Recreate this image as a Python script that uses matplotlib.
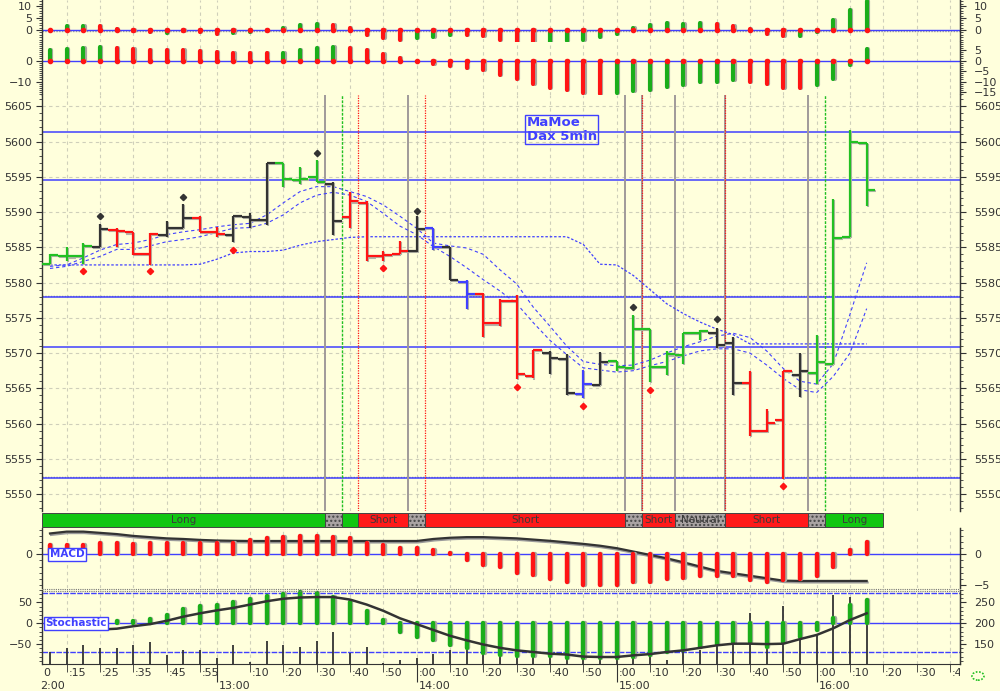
import matplotlib
matplotlib.use("Agg")
import matplotlib.pyplot as plt
from matplotlib.patches import Rectangle, Circle
from matplotlib.ticker import MultipleLocator
from matplotlib.transforms import blended_transform_factory, Bbox, TransformedBbox

BG = "#FFFFDC"
GREEN = "#22C022"
HIST_GREEN = "#1AAE1A"
RED = "#FF1414"
BLACK = "#333333"
BLUE = "#4040FF"
GRAY = "#A09A9A"
GRID = "#CFCFBA"
COLORS = {"g": GREEN, "r": RED, "k": BLACK, "b": BLUE}
HIST_COLORS = {"g": HIST_GREEN, "r": RED}

W, H = 1000, 691
X_LIM = (7.6, 283.0)

# 5-minute bars, minutes after 12:00 (12:10 .. 16:15)
bar_minutes = list(range(10, 256, 5))

price_open = [5582.7, 5583.8, 5583.8, 5585.1, 5587.5, 5587.1, 5584.0, 5586.7, 5587.8, 5589.2,
              5587.2, 5586.7, 5589.3, 5588.9, 5596.9, 5594.5, 5595.0, 5594.0, 5589.3, 5591.3,
              5583.8, 5584.0, 5584.5, 5587.8, 5585.1, 5580.1, 5578.4, 5574.2, 5577.4, 5566.7,
              5570.0, 5569.1, 5564.2, 5565.5, 5568.9, 5567.9, 5573.4, 5568.0, 5569.7, 5572.9,
              5572.9, 5571.4, 5565.7, 5559.0, 5560.5, 5566.9, 5567.2, 5568.5, 5586.4, 5599.8]
price_high = [5584.0, 5585.1, 5585.6, 5588.3, 5587.7, 5587.2, 5587.0, 5588.7, 5591.1, 5589.4,
              5587.9, 5589.5, 5589.8, 5596.9, 5596.9, 5596.4, 5597.4, 5594.2, 5592.9, 5591.5,
              5584.5, 5585.9, 5589.4, 5587.8, 5585.1, 5580.4, 5578.5, 5577.6, 5578.3, 5570.5,
              5570.3, 5569.9, 5567.6, 5570.1, 5568.9, 5575.4, 5573.4, 5570.3, 5572.9, 5573.3,
              5573.6, 5572.3, 5567.5, 5562.0, 5567.5, 5570.0, 5572.6, 5591.8, 5601.7, 5599.8]
price_low = [5582.6, 5583.0, 5582.6, 5585.0, 5585.0, 5583.9, 5582.5, 5586.5, 5587.7, 5587.1,
             5586.5, 5585.8, 5587.7, 5588.1, 5593.6, 5594.0, 5594.2, 5586.8, 5587.7, 5583.1,
             5583.1, 5584.0, 5584.4, 5584.6, 5580.4, 5576.3, 5572.3, 5573.8, 5566.3, 5566.4,
             5567.1, 5564.1, 5563.6, 5565.5, 5567.4, 5567.8, 5565.9, 5566.9, 5568.4, 5571.8,
             5570.7, 5564.1, 5558.2, 5558.8, 5552.1, 5563.8, 5565.6, 5568.5, 5586.4, 5590.9]
price_close = [5583.9, 5583.7, 5585.2, 5587.6, 5587.3, 5584.0, 5586.9, 5587.7, 5589.1, 5587.2,
               5586.9, 5589.4, 5588.9, 5596.9, 5594.7, 5594.7, 5594.2, 5588.8, 5591.5, 5583.7,
               5583.9, 5584.5, 5587.6, 5585.1, 5580.4, 5578.4, 5574.2, 5577.4, 5567.1, 5570.5,
               5569.3, 5564.3, 5565.6, 5568.8, 5568.0, 5573.4, 5568.0, 5569.8, 5572.8, 5573.1,
               5571.2, 5565.8, 5559.0, 5560.1, 5567.4, 5567.5, 5568.8, 5586.3, 5600.0, 5593.1]
price_color = list("gggkrrrkkrrkkkgggkrrrrkbkbrrrrkkbkggggggkkrrrkgggg")

band_upper = [5582.3, 5582.5, 5583.5, 5584.6, 5585.4, 5585.6, 5586.1, 5586.8, 5587.2, 5587.5,
              5587.9, 5588.2, 5588.4, 5589.6, 5591.3, 5592.9, 5593.6, 5593.6, 5592.9, 5592.2,
              5591.0, 5589.4, 5587.7, 5585.6, 5585.2, 5584.9, 5584.0, 5581.8, 5579.8, 5576.5,
              5573.8, 5571.0, 5568.8, 5568.4, 5568.2, 5568.3, 5569.0, 5570.0, 5570.9, 5571.6,
              5572.4, 5572.8, 5572.2, 5570.3, 5567.8, 5566.0, 5565.6, 5568.5, 5575.5, 5582.8]
band_lower = [5582.0, 5582.3, 5583.0, 5583.7, 5584.7, 5584.7, 5585.2, 5585.8, 5586.1, 5586.5,
              5587.1, 5587.7, 5587.8, 5588.4, 5589.6, 5591.3, 5592.4, 5592.8, 5592.4, 5591.5,
              5589.8, 5588.0, 5586.8, 5585.1, 5583.7, 5582.1, 5580.4, 5578.8, 5577.0, 5574.3,
              5571.8, 5569.8, 5567.9, 5567.6, 5567.3, 5567.5, 5568.2, 5568.8, 5569.6, 5570.3,
              5570.6, 5570.6, 5570.0, 5568.3, 5566.4, 5564.8, 5564.4, 5566.7, 5570.0, 5576.3]
slow_line = [5582.5, 5582.5, 5582.5, 5582.5, 5582.5, 5582.5, 5582.5, 5582.5, 5582.5, 5582.6,
             5583.3, 5584.2, 5584.4, 5584.4, 5584.6, 5585.3, 5585.8, 5586.1, 5586.4, 5586.5,
             5586.5, 5586.5, 5586.5, 5586.5, 5586.5, 5586.5, 5586.5, 5586.5, 5586.5, 5586.5,
             5586.5, 5586.5, 5585.4, 5582.6, 5582.5, 5581.0, 5579.0, 5577.0, 5575.6, 5574.4,
             5573.4, 5572.6, 5571.3, 5571.3, 5571.3, 5571.3, 5571.3, 5571.3, 5571.3, 5571.3]

fractal_low_min = [20, 40, 65, 110, 150, 170, 190, 230]
fractal_low_val = [5581.6, 5581.6, 5584.6, 5582.0, 5565.2, 5562.5, 5564.8, 5551.2]
fractal_high_min = [25, 50, 90, 120, 185, 210]
fractal_high_val = [5589.5, 5592.1, 5598.4, 5590.2, 5576.5, 5574.8]

level_lines = [5601.3, 5594.6, 5577.9, 5570.8, 5552.3]

signal_gray = [92.5, 117.5, 182.5, 187.5, 197.5, 212.5, 237.5]
signal_red = [102.5, 122.5, 187.5, 212.5]
signal_green = [97.5, 242.5]

status_start = [7.6, 92.5, 97.5, 102.5, 117.5, 122.5, 182.5, 187.5, 197.5, 212.5, 237.5, 242.5]
status_end = [92.5, 97.5, 102.5, 117.5, 122.5, 182.5, 187.5, 197.5, 212.5, 237.5, 242.5, 260.0]
status_kind = ["g", "n", "g", "r", "n", "r", "n", "r", "n", "r", "n", "g"]
status_text = ["Long", "", "", "Short", "", "Short", "", "Short", "Neutral", "Short", "", "Long"]

top_values = [0.0, 1.5, 1.5, 1.5, 0.3, -0.4, -1.0, -1.2, -0.4, -1.0,
              -1.5, -1.2, -1.0, -0.6, 1.0, 2.0, 2.5, 2.0, 1.0, -2.0,
              -3.5, -4.0, -3.5, -2.8, -2.0, -2.0, -2.5, -4.0, -5.0, -5.5,
              -5.5, -4.5, -4.0, -3.0, -1.5, 1.0, 2.0, 3.0, 2.5, 3.0,
              2.5, 1.8, 0.3, -1.5, -2.5, -2.5, -1.0, 4.0, 8.5, 12.0]
top_color = list("rggrrrrgrrrggrgggrrrrrgggrrrrrggggggggggrrrrrggggg")

mid_values = [5.2, 5.4, 6.0, 6.5, 6.0, 5.7, 5.2, 5.2, 5.2, 4.4,
              4.1, 3.8, 3.7, 3.7, 3.8, 5.2, 6.0, 6.5, 6.0, 4.9,
              3.3, 1.0, 0.0, -1.7, -2.5, -3.5, -4.6, -6.8, -8.9, -11.3,
              -12.9, -14.1, -15.4, -16.0, -15.4, -14.4, -13.8, -12.5, -11.7, -10.2,
              -10.2, -9.4, -10.2, -11.4, -12.9, -13.3, -11.7, -9.0, -2.2, 5.7]
mid_color = list("ggggrrrrrrrrrrggggrrrrrrrrrrrrrrrrggggggggrrrrgggg")

macd_hist = [1.5, 1.5, 1.5, 1.8, 1.8, 1.6, 1.8, 1.8, 1.9, 1.9,
             1.9, 1.9, 2.3, 2.6, 2.8, 3.0, 3.0, 2.8, 2.6, 1.9,
             1.5, 1.1, 1.0, 0.7, 0.2, -0.9, -1.7, -2.0, -3.1, -3.4,
             -4.0, -4.6, -5.0, -5.0, -5.0, -4.6, -4.5, -4.0, -3.9, -3.6,
             -3.6, -3.5, -4.2, -4.5, -4.2, -4.0, -3.5, -2.0, 0.7, 2.0]
macd_line = [3.4, 3.7, 3.7, 3.5, 3.3, 3.0, 2.8, 2.6, 2.5, 2.35,
             2.25, 2.2, 2.17, 2.17, 2.17, 2.17, 2.17, 2.17, 2.17, 2.17,
             2.17, 2.17, 2.17, 2.5, 2.7, 2.8, 2.8, 2.7, 2.6, 2.4,
             2.2, 1.95, 1.7, 1.4, 1.0, 0.45, -0.1, -0.65, -1.3, -2.0,
             -2.7, -3.1, -3.5, -3.9, -4.3, -4.35, -4.35, -4.35, -4.35, -4.35]

stoch_hist = [0, 0, 2, 3, 5, 5, 10, 20, 34, 42,
              44, 50, 58, 66, 70, 74, 72, 62, 52, 30,
              8, -20, -32, -40, -52, -60, -72, -76, -78, -78,
              -79, -83, -83, -83, -83, -81, -77, -69, -65, -57,
              -49, -45, -45, -57, -45, -33, -16, 12, 43, 57]
stoch_line = [-15, -15, -15, -15, -13, -7, -2, 6, 16, 24,
              31, 37, 45, 53, 59, 62, 63, 63, 57, 45,
              30, 12, -2, -16, -30, -41, -51, -59, -65, -69,
              -73, -75, -80, -81, -81, -77, -74, -69, -65, -59,
              -53, -49, -49, -50, -49, -38, -28, -12, 8, 24]
stoch_spike = [-70, -60, -52, -60, -60, -52, -44, -76, -64, -64,
               -84, -52, -92, -42, -52, -58, -42, -20, -72, -58,
               -96, -88, -84, -74, -64, -64, -64, -12, -4, -8,
               -12, -12, -16, -12, -12, -12, -12, -88, -20, -64,
               -48, -12, 24, -28, 42, -36, -28, 68, 62, 56]

grid_minutes = [15, 25, 35, 45, 55, 60] + list(range(70, 281, 10))
row1_minutes = [15, 25, 35, 45, 55] + list(range(70, 281, 10))
hour_minutes = [60, 120, 180, 240]
hour_labels = ["13:00", "14:00", "15:00", "16:00"]


def add_panel(fig, top, bottom, ylim):
    ax = fig.add_axes([42 / W, 1 - bottom / H, 918 / W, (bottom - top) / H])
    ax.set_facecolor(BG)
    ax.set_xlim(X_LIM)
    ax.set_ylim(ylim)
    ax.spines["top"].set_visible(False)
    ax.spines["bottom"].set_visible(False)
    for side in ("left", "right"):
        ax.spines[side].set_color(BLACK)
        ax.spines[side].set_linewidth(1.0)
    ax.set_xticks([])
    for m in grid_minutes:
        ax.axvline(m, color=GRID, lw=0.8, ls=(0, (3, 3)), zorder=0)
    return ax


def set_ticks(ax, left, right, minor, offset=0.0):
    ax.set_yticks(left)
    ax.yaxis.set_minor_locator(MultipleLocator(minor))
    ax.tick_params(axis="y", which="both", direction="out", colors=BLACK,
                   labelsize=8, pad=3, left=True, right=False)
    ax.tick_params(axis="y", which="major", length=4)
    ax.tick_params(axis="y", which="minor", length=2)
    twin = ax.twinx()
    lo, hi = ax.get_ylim()
    twin.set_ylim(lo + offset, hi + offset)
    twin.set_yticks(right)
    twin.yaxis.set_minor_locator(MultipleLocator(minor))
    twin.tick_params(axis="y", which="both", direction="out", colors=BLACK,
                     labelsize=8, pad=6)
    twin.tick_params(axis="y", which="major", length=4)
    twin.tick_params(axis="y", which="minor", length=2)
    for side in ("top", "bottom", "left"):
        twin.spines[side].set_visible(False)
    twin.spines["right"].set_color(BLACK)
    return twin


def draw_histogram(ax, values, colors, width=3.0, dots=True):
    shifted = [m + 0.35 for m in bar_minutes]
    ax.vlines(shifted, 0, values, color="#A8A8A0", lw=width, capstyle="round", zorder=2)
    ax.vlines(bar_minutes, 0, values, color=[HIST_COLORS[c] for c in colors],
              lw=width, capstyle="round", zorder=3)
    if dots:
        ax.plot(bar_minutes, [0] * len(bar_minutes), "o", color=RED, ms=3.0, zorder=4)


def draw_top_panels(fig):
    ax1 = add_panel(fig, 0, 42, (-5.0, 12.5))
    set_ticks(ax1, [0, 5, 10], [0, 5, 10], 1)
    ax1.axhline(-0.3, color="#9A9A9A", lw=1.0, ls=(0, (1, 1)), zorder=1)
    ax1.axhline(0, color=BLUE, lw=1.0, zorder=1)
    draw_histogram(ax1, top_values, top_color)

    ax2 = add_panel(fig, 42, 95, (-16.4, 8.8))
    set_ticks(ax2, [-10, 0], [-15, -10, -5, 0, 5], 1)
    ax2.axhline(0, color=BLUE, lw=1.0, zorder=1)
    draw_histogram(ax2, mid_values, mid_color)


def draw_price_panel(fig):
    ax = add_panel(fig, 95, 511, (5547.6, 5606.6))
    set_ticks(ax, list(range(5550, 5606, 5)), list(range(5550, 5606, 5)), 1)
    for p in range(5550, 5606, 5):
        ax.axhline(p, color=GRID, lw=0.8, ls=(0, (3, 3)), zorder=0)
    for p in level_lines:
        if p in (5577.9, 5552.3):
            ax.axhline(p + 0.15, color="#8A8A8A", lw=1.0, ls=(0, (1, 1)), zorder=1)
        ax.axhline(p, color=BLUE, lw=1.1, zorder=1)

    for m in signal_gray:
        ax.axvline(m, color=GRAY, lw=1.4, zorder=1)
    for m in signal_red:
        ax.axvline(m, color=RED, lw=0.9, ls=(0, (1, 1)), zorder=1)
    for m in signal_green:
        ax.axvline(m, color=GREEN, lw=1.0, ls=(0, (2, 1)), zorder=1)

    ax.plot(bar_minutes, slow_line, color=BLUE, lw=0.9, ls=(0, (2, 1.5)), zorder=2)
    ax.plot(bar_minutes, band_upper, color=BLUE, lw=0.8, ls=(0, (3, 2.5)), zorder=2)
    ax.plot(bar_minutes, band_lower, color=BLUE, lw=0.8, ls=(0, (3, 2.5)), zorder=2)

    half = 2.5
    for m, o, h, l, c, k in zip(bar_minutes, price_open, price_high, price_low,
                                price_close, price_color):
        col = COLORS[k]
        dx, dy = 0.3, -0.15
        ax.vlines(m + dx, l + dy, h + dy, color="#B4B4A8", lw=1.5, zorder=3)
        ax.hlines([o + dy, c + dy], [m - half + dx, m + dx], [m + dx, m + half + dx],
                  color="#B4B4A8", lw=1.5, zorder=3)
        ax.vlines(m, l, h, color=col, lw=1.6, zorder=4)
        ax.hlines([o, c], [m - half, m], [m, m + half], color=col, lw=1.6, zorder=4)

    ax.plot(fractal_low_min, fractal_low_val, "D", color=RED, ms=3.2, zorder=5)
    ax.plot(fractal_high_min, fractal_high_val, "D", color=BLACK, ms=3.2, zorder=5)

    ax.text(153, 5603.6, "MaMoe\nDax 5min", color=BLUE, fontsize=9.5, fontweight="bold",
            va="top", ha="left", linespacing=1.1, zorder=6,
            bbox=dict(boxstyle="square,pad=0.1", fc="none", ec=BLUE, lw=1.0))


def draw_status_bar(fig):
    ax = fig.add_axes([42 / W, 1 - 528 / H, 918 / W, 16 / H])
    ax.set_xlim(X_LIM)
    ax.set_ylim(0, 1)
    ax.axis("off")
    fills = {"g": "#11C611", "r": "#FF1A1A", "n": "#A9A3A3"}
    for x0, x1, kind, label in zip(status_start, status_end, status_kind, status_text):
        ax.add_patch(Rectangle((x0, 0.05), x1 - x0, 0.9, facecolor=fills[kind],
                               edgecolor="#444444", lw=0.7,
                               hatch="...." if kind == "n" else None))
        if label:
            ax.text((x0 + x1) / 2, 0.48, label, ha="center", va="center",
                    fontsize=7.5, color="#3A3A3A")


def label_box(ax, x, y, text):
    ax.text(x, y, text, color=BLUE, fontsize=7.5, fontweight="bold", ha="left",
            va="center", zorder=6,
            bbox=dict(boxstyle="square,pad=0.15", fc="white", ec=BLUE, lw=1.0))


def draw_macd(fig):
    ax = add_panel(fig, 528, 588, (-5.5, 4.29))
    set_ticks(ax, [0], [-5, 0], 1)
    ax.axhline(0, color=BLUE, lw=1.0, zorder=1)
    ax.plot([m + 0.3 for m in bar_minutes], [v - 0.25 for v in macd_line],
            color="#9A9A9A", lw=1.5, zorder=2)
    ax.plot(bar_minutes, macd_line, color=BLACK, lw=1.6, zorder=3)
    ax.vlines([m + 0.35 for m in bar_minutes], 0, macd_hist, color="#A8A8A0",
              lw=3.2, capstyle="round", zorder=3)
    ax.vlines(bar_minutes, 0, macd_hist, color=RED, lw=3.2, capstyle="round", zorder=4)
    label_box(ax, 10.0, 0, "MACD")


def draw_stochastic(fig):
    ax = add_panel(fig, 590, 664, (-97.8, 80.0))
    set_ticks(ax, [-50, 0, 50], [150, 200, 250], 10, offset=200)
    ax.spines["bottom"].set_visible(True)
    ax.spines["bottom"].set_color(BLACK)
    for v in (73, -68):
        ax.axhline(v, color=BLUE, lw=1.0, ls=(0, (4, 1)), zorder=1)
    ax.axhline(0, color=BLUE, lw=1.0, zorder=1)
    ax.vlines(bar_minutes, -97.8, stoch_spike, color=BLACK, lw=1.3, zorder=2)
    ax.vlines([m + 0.35 for m in bar_minutes], 0, stoch_hist, color="#A8A8A0",
              lw=3.2, capstyle="round", zorder=3)
    ax.vlines(bar_minutes, 0, stoch_hist, color=HIST_GREEN, lw=3.2, capstyle="round",
              zorder=4)
    ax.plot(bar_minutes, stoch_line, color=BLACK, lw=1.8, zorder=5)
    label_box(ax, 8.6, 0, "Stochastic")

    ax.set_xticks(hour_minutes)
    ax.set_xticks([m for m in row1_minutes if m not in hour_minutes], minor=True)
    ax.tick_params(axis="x", which="major", direction="out", length=13, color=BLACK,
                   labelbottom=False)
    ax.tick_params(axis="x", which="minor", direction="out", length=6, color=BLACK)

    trans = blended_transform_factory(ax.transData, fig.transFigure)
    clip = TransformedBbox(Bbox([[42 / W, 0], [960 / W, 1]]), fig.transFigure)
    for m in row1_minutes:
        t = ax.text(m + 0.5, 1 - 673 / H, f":{m % 60:02d}", transform=trans,
                    fontsize=8, ha="left", va="center", color=BLACK)
        t.set_clip_box(clip)
        t.set_clip_on(True)
    for m, lab in zip(hour_minutes, hour_labels):
        ax.text(m + 0.5, 1 - 686 / H, lab, transform=trans, fontsize=8,
                ha="left", va="center", color=BLACK)
    fig.text(43 / W, 1 - 673 / H, "0", fontsize=8, ha="left", va="center", color=BLACK)
    fig.text(40 / W, 1 - 686 / H, "2:00", fontsize=8, ha="left", va="center", color=BLACK)


def main() -> None:
    fig = plt.figure(figsize=(W / 100, H / 100), dpi=100, facecolor=BG)
    draw_top_panels(fig)
    draw_price_panel(fig)
    draw_status_bar(fig)
    draw_macd(fig)
    draw_stochastic(fig)
    # separator between MACD and stochastic panels
    fig.add_artist(plt.Line2D([42 / W, 960 / W], [1 - 588.5 / H] * 2, color="#777777",
                              lw=0.8, ls=(0, (1, 1))))
    fig.add_artist(plt.Line2D([42 / W, 960 / W], [1 - 590.5 / H] * 2, color="#777777",
                              lw=0.8, ls=(0, (1, 1))))
    fig.add_artist(Circle((978 / W, 1 - 676 / H), 0.006, transform=fig.transFigure,
                          fill=False, ec=GREEN, lw=1.2, ls=(0, (1, 1))))
    fig.savefig("out.png", dpi=100, facecolor=BG)
    plt.close(fig)


if __name__ == "__main__":
    main()
